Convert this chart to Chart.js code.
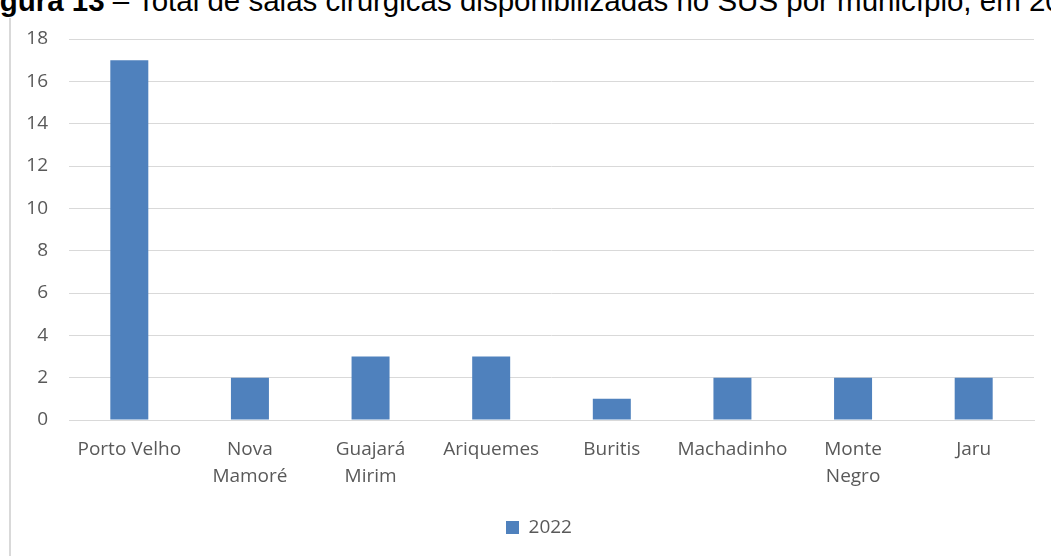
<!DOCTYPE html>
<html>
<head>
<meta charset="utf-8">
<script src="https://cdn.jsdelivr.net/npm/chart.js@4"></script>
<style>
  html, body { margin: 0; padding: 0; background: #ffffff; }
  #wrap { position: relative; width: 1051px; height: 556px; overflow: hidden; }
  #title {
    position: absolute; left: -26.5px; top: -13.7px; white-space: nowrap;
    font-family: "Liberation Sans", Arial, sans-serif; font-size: 29.5px; line-height: 29.5px; color: #000;
  }
  #title b { font-weight: bold; }
  canvas { position: absolute; left: 0; top: 0; }
</style>
</head>
<body>
<div id="wrap">
  <div id="title"><b>Figura 13</b> – Total de salas cirúrgicas disponibilizadas no SUS por município, em 2022</div>
  <canvas id="c" width="1051" height="556"></canvas>
</div>
<script>
const categories = [
  'Porto Velho',
  ['Nova', 'Mamoré'],
  ['Guajará', 'Mirim'],
  'Ariquemes',
  'Buritis',
  'Machadinho',
  ['Monte', 'Negro'],
  'Jaru'
];
const seriesName = '2022';
const values2022 = [17, 2, 3, 3, 1, 2, 2, 2];
const yTicks = [0, 2, 4, 6, 8, 10, 12, 14, 16, 18];

const frameLine = {
  id: 'frameLine',
  beforeDraw(chart) {
    const ctx = chart.ctx;
    ctx.save();
    ctx.strokeStyle = '#d9d9d9';
    ctx.lineWidth = 2;
    ctx.beginPath();
    ctx.moveTo(10, 18);
    ctx.lineTo(10, 556);
    ctx.stroke();
    ctx.restore();
  }
};

// legend in the reference is centred over a box that starts at the tick labels
const legendShift = {
  id: 'legendShift',
  afterLayout(chart) {
    const lg = chart.legend;
    if (lg) { lg.left = 44; }
  }
};

const FONT = "'Open Sans', 'Noto Sans', sans-serif";

new Chart(document.getElementById('c'), {
  type: 'bar',
  data: {
    labels: categories,
    datasets: [{
      label: seriesName,
      data: values2022,
      backgroundColor: '#4f81bd',
      borderWidth: 0,
      categoryPercentage: 0.315,
      barPercentage: 1.0
    }]
  },
  options: {
    responsive: false,
    animation: false,
    devicePixelRatio: 1,
    layout: { padding: { left: 12, right: 17, top: 39, bottom: 9 } },
    plugins: {
      title: { display: false },
      tooltip: { enabled: false },
      legend: {
        display: true,
        position: 'bottom',
        labels: {
          boxWidth: 13,
          boxHeight: 13,
          padding: 10,
          color: '#595959',
          font: { family: FONT, size: 19 }
        }
      }
    },
    scales: {
      x: {
        grid: { display: false, drawTicks: false },
        border: { display: true, color: '#d9d9d9', width: 1 },
        ticks: {
          color: '#595959',
          font: { family: FONT, size: 19, lineHeight: 1.42 },
          padding: 16,
          maxRotation: 0,
          autoSkip: false
        },
        afterFit(scale) { scale.height = 88; }
      },
      y: {
        min: 0,
        max: 18,
        afterBuildTicks(scale) { scale.ticks = yTicks.map(v => ({ value: v })); },
        grid: { color: '#d9d9d9', lineWidth: 1, drawTicks: false },
        border: { display: false },
        ticks: {
          color: '#595959',
          font: { family: FONT, size: 19 },
          padding: 21
        },
        afterFit(scale) { scale.width = 57; }
      }
    }
  },
  plugins: [frameLine, legendShift]
});
</script>
</body>
</html>
